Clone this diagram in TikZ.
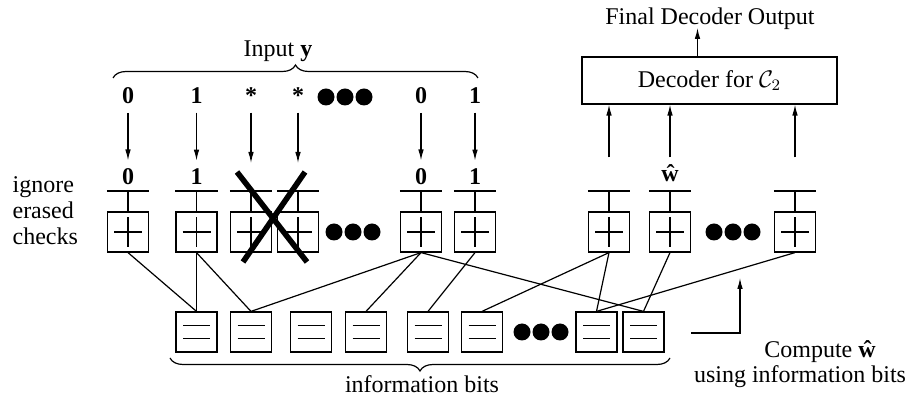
\documentclass[tikz,border=0pt,12pt]{standalone}
\usepackage{fontspec}
\setmainfont{Liberation Serif}
\usetikzlibrary{positioning}
\usetikzlibrary{calc}
\usetikzlibrary{arrows.meta}
\usetikzlibrary{decorations.pathreplacing}
\tikzset{
    % Long narrow filled arrow heads
    >={Latex[length=5.5pt,width=2.8pt]},
%
    % A parity check, drawn as a box with a plus in it
    check box/.style={
        draw, minimum width=20.5pt, minimum height=20pt, inner sep=0,
        path picture={
            \draw ([xshift=-7pt]path picture bounding box.center)
                -- ([xshift=7pt]path picture bounding box.center)
                ([yshift=-7.5pt]path picture bounding box.center)
                -- ([yshift=7.5pt]path picture bounding box.center);}},
%
    % An information bit, drawn as a box with an equals sign in it
    bit box/.style={
        draw, minimum width=20.5pt, minimum height=20pt, inner sep=0,
        path picture={
            \draw [line width=0.9pt]
                ([xshift=-6.75pt,yshift=3.25pt]path picture bounding box.center) -- ++(13.5pt,0)
                ([xshift=-6.75pt,yshift=-3.25pt]path picture bounding box.center) -- ++(13.5pt,0);}},
%
    % Received values over the checks
    bit label/.style={font=\bfseries, anchor=base},
%
    % Bar on top of every check
    check bar/.style={line width=0.9pt},
%
    % Heavy strike through the erased checks
    erased/.style={line width=2.8pt},
%
    % Braces round the input and the information bits
    group brace/.style={decorate, decoration={brace, amplitude=6.5pt}}}

\begin{document}
\begin{tikzpicture}[x=0.5pt, y=-0.5pt, line width=0.6pt]

\useasboundingbox (0,0) rectangle (911,405);

% Checks and information bits

\foreach \i/\x in {1/128, 2/196.5, 3/251, 4/298, 5/421, 6/475, 7/609, 8/670, 9/795}
    \node [check box] (c\i) at (\x,232) {};

\foreach \i/\x in {1/196.5, 2/251, 3/311, 4/366, 5/428, 6/482, 7/596.5, 8/643.5}
    \node [bit box] (v\i) at (\x,332) {};

\foreach \i in {1,...,9} {
    \draw [check bar] ([yshift=10pt]c\i.north west) -- ([yshift=10pt]c\i.north east);
    \draw ([yshift=10pt]c\i.north) -- (c\i.north);
}

\foreach \a/\b in {c1/v1, c2/v1, c2/v2, c5/v2, c5/v4, c5/v8,
                   c6/v5, c7/v6, c7/v7, c8/v8, c9/v7}
    \draw (\a.south) -- (\b.north);

% Input y

\coordinate (inrow) at (0,104);
\coordinate (labrow) at (0,185);
\coordinate (tiprow) at (0,163);

\foreach \i/\t in {1/0, 2/1, 3/*, 4/*, 5/0, 6/1}
    \node [bit label] (in\i) at (c\i |- inrow) {\t};

\foreach \i/\t in {1/0, 2/1, 5/0, 6/1} {
    \node [bit label] (lab\i) at (c\i |- labrow) {\t};
    \draw [->] (in\i) -- (lab\i);
}

\foreach \i in {3,4} {
    \coordinate (tip\i) at (c\i |- tiprow);
    \draw [->] (in\i) -- (tip\i);
}

\draw [erased] (237,172) -- (307,262) (305,172) -- (243,262);

\coordinate (yl) at (113,78);
\coordinate (yr) at (478,78);
\draw [group brace] (yl) -- (yr);
\node [anchor=base] (input) at (278,57) {Input \textbf{y}};

\node [anchor=west, align=left, inner sep=0,
    font=\fontsize{12}{13}\selectfont] (ignore) at (12,211)
    {ignore\\erased\\checks};

% Decoder for C2

\node [draw, minimum width=127.5pt, minimum height=23.5pt] (dec) at (709.5,80.5)
    {Decoder for $\mathcal{C}_2$\hspace{14pt}};
\node [anchor=base] (out) at (710,25) {Final Decoder Output};
\draw [->, shorten >=1.5pt] ([xshift=-6pt]dec.north) -- ([xshift=-6pt]dec.north |- out.base);

\foreach \i in {7,8,9}
    \draw [->] ([yshift=27pt]c\i.north) -- (c\i.north |- dec.south);

\node [bit label] (what) at (c8 |- 0,182) {ŵ};

% Information bits

\coordinate (bl) at (170,358);
\coordinate (br) at (670,358);
\draw [group brace] (br) -- (bl);
\node [anchor=base] (info) at (422,393) {information bits};

\node [anchor=base] (compute) at (820,358) {Compute \textbf{ŵ}};
\node [anchor=base] (using) at (800,383) {using information bits};
\coordinate (cw) at (691,333);
\coordinate (cwtip) at (740,278);
\draw [->] (cw) -| (cwtip);

% Dots

\foreach \x/\y in {345/97, 353/232, 733/232, 541/332}
    \foreach \d in {-19,0,19}
        \fill ({\x+\d},\y) circle (4.25pt);

\end{tikzpicture}
\end{document}
